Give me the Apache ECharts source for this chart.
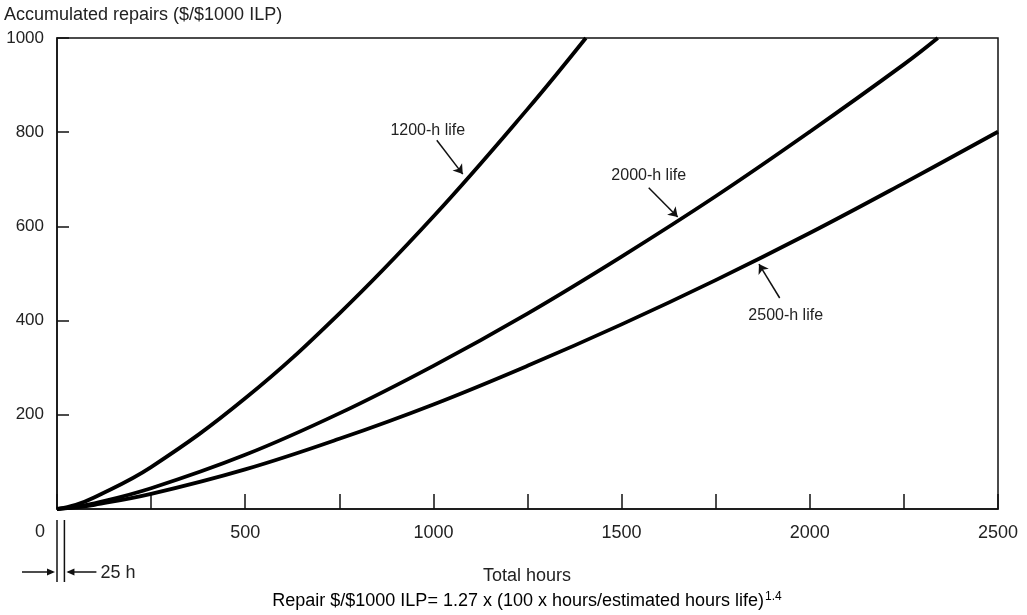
<!DOCTYPE html>
<html>
<head>
<meta charset="utf-8">
<script src="https://cdn.jsdelivr.net/npm/echarts@6/dist/echarts.min.js"></script>
<style>html,body{margin:0;padding:0;background:#fff;}#c{width:1027px;height:615px;}</style>
</head>
<body>
<div id="c"></div>
<script>
// Data
const hours1200 = [0, 50, 100, 250, 500, 750, 1000, 1250, 1405];
const val1200   = [0, 9, 25, 89, 235, 415, 621, 849, 1000];
const hours2000 = [0, 50, 100, 250, 500, 750, 1000, 1250, 1500, 1750, 2000, 2250, 2340];
const val2000   = [0, 5, 12, 44, 115, 203, 304, 415, 536, 664, 801, 944, 1000];
const hours2500 = [0, 50, 100, 250, 500, 750, 1000, 1250, 1500, 1750, 2000, 2250, 2500];
const val2500   = [0, 3.5, 9, 32, 84, 149, 222, 304, 392, 486, 586, 692, 801];
const seriesNames = ['1200-h life', '2000-h life', '2500-h life'];
// annotation anchors (data coords): label centre, arrow start, arrow end
const labelPos = [[985, 803], [1572, 707], [1936, 410]];
const arrowFrom = [[1009, 783], [1572, 682], [1920, 448]];
const arrowTo = [[1078, 711], [1649, 620], [1865, 520]];
const markerHours = [0, 25];

const FONT = '"Liberation Sans", Arial, Helvetica, sans-serif';
const chart = echarts.init(document.getElementById('c'), null, {renderer: 'canvas'});

function zip(a, b) { return a.map((v, i) => [v, b[i]]); }
const allData = [zip(hours1200, val1200), zip(hours2000, val2000), zip(hours2500, val2500)];

const series = allData.map((d, i) => ({
  name: seriesNames[i],
  type: 'line',
  data: d,
  smooth: 0.4,
  showSymbol: false,
  symbol: 'none',
  lineStyle: {color: '#000', width: 3.8},
  silent: true,
  markLine: {
    silent: true,
    symbol: ['none', 'arrow'],
    symbolSize: 9,
    lineStyle: {color: '#111', width: 1.5, type: 'solid'},
    label: {show: false},
    data: [[{coord: arrowFrom[i]}, {coord: arrowTo[i]}]]
  },
  markPoint: {
    silent: true,
    symbol: 'circle',
    symbolSize: 0,
    label: {show: true, position: 'inside', formatter: seriesNames[i], color: '#222', fontSize: 16, fontFamily: FONT},
    data: [{coord: labelPos[i]}]
  }
}));

const option = {
  animation: false,
  backgroundColor: '#fff',
  grid: {left: 57, right: 29, top: 38, bottom: 106, show: true, borderColor: '#111', borderWidth: 1.5},
  xAxis: {
    type: 'value', min: 0, max: 2500, interval: 250,
    axisLine: {show: true, lineStyle: {color: '#111', width: 1.5}},
    axisTick: {show: true, inside: true, length: 15, lineStyle: {color: '#111', width: 1.5}},
    axisLabel: {color: '#222', fontSize: 18, fontFamily: FONT, margin: 15,
      formatter: v => (v % 500 === 0 && v !== 0) ? String(v) : ''},
    splitLine: {show: false}
  },
  yAxis: {
    type: 'value', min: 0, max: 1000, interval: 200,
    axisLine: {show: true, lineStyle: {color: '#111', width: 1.5}},
    axisTick: {show: true, inside: true, length: 12, lineStyle: {color: '#111', width: 1.5}},
    axisLabel: {color: '#222', fontSize: 17, fontFamily: FONT, margin: 13,
      formatter: v => v === 0 ? '' : String(v)},
    splitLine: {show: false}
  },
  series: series
};
chart.setOption(option);

const p0 = chart.convertToPixel({gridIndex: 0}, [markerHours[0], 0]);
const p1 = chart.convertToPixel({gridIndex: 0}, [markerHours[1], 0]);
const x0 = p0[0], x1 = p1[0] - 2, yb = p0[1];
const ay = yb + 63;
chart.setOption({
  graphic: [
    {type: 'text', left: 4, top: 6, style: {text: 'Accumulated repairs ($/$1000 ILP)', fill: '#222', font: '18px ' + FONT}},
    {type: 'text', x: x0 - 12, y: yb + 23, style: {text: '0', fill: '#222', font: '18px ' + FONT, textAlign: 'right', textVerticalAlign: 'middle'}},
    {type: 'line', shape: {x1: x0, y1: yb + 11, x2: x0, y2: yb + 73}, style: {stroke: '#111', lineWidth: 1.5}},
    {type: 'line', shape: {x1: x1, y1: yb + 11, x2: x1, y2: yb + 73}, style: {stroke: '#111', lineWidth: 1.5}},
    {type: 'line', shape: {x1: x0 - 35, y1: ay, x2: x0 - 4, y2: ay}, style: {stroke: '#111', lineWidth: 1.5}},
    {type: 'polygon', shape: {points: [[x0 - 2, ay], [x0 - 10, ay - 3.5], [x0 - 10, ay + 3.5]]}, style: {fill: '#111'}},
    {type: 'line', shape: {x1: x1 + 4, y1: ay, x2: x1 + 32, y2: ay}, style: {stroke: '#111', lineWidth: 1.5}},
    {type: 'polygon', shape: {points: [[x1 + 2, ay], [x1 + 10, ay - 3.5], [x1 + 10, ay + 3.5]]}, style: {fill: '#111'}},
    {type: 'text', x: x1 + 36, y: ay + 1, style: {text: '25 h', fill: '#222', font: '18px ' + FONT, textVerticalAlign: 'middle'}},
    {type: 'text', x: 527, y: 576, style: {text: 'Total hours', fill: '#222', font: '18px ' + FONT, textAlign: 'center', textVerticalAlign: 'middle'}},
    {type: 'text', x: 527, y: 601, style: {
      text: '{a|Repair $/$1000 ILP= 1.27 x (100 x hours/estimated hours life)}{s|1.4}',
      textAlign: 'center', textVerticalAlign: 'middle',
      rich: {a: {fontSize: 18, fontFamily: FONT, color: '#222'},
             s: {fontSize: 12, fontFamily: FONT, color: '#222', verticalAlign: 'top', padding: [0, 0, 9, 1]}}
    }}
  ]
});
</script>
</body>
</html>
